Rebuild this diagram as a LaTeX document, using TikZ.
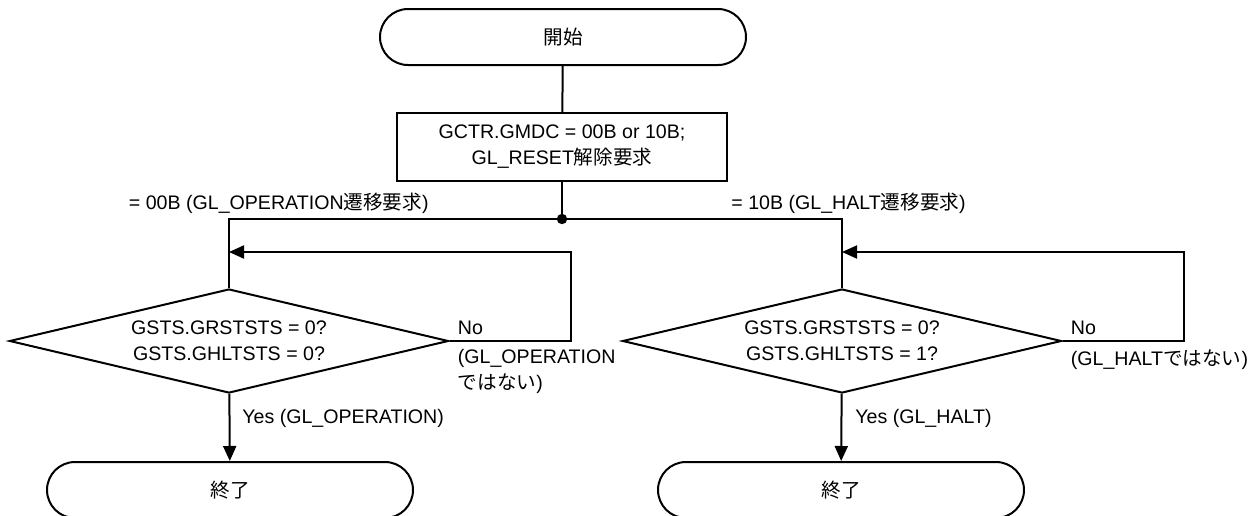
\documentclass[tikz,border=0pt]{standalone}
\usepackage{fontspec}
\setmainfont{Liberation Sans}
\newfontfamily\jpfont{Noto Sans CJK JP}
\usetikzlibrary{arrows.meta,positioning,shapes.geometric}

\begin{document}
\begin{tikzpicture}[
  x=0.5pt, y=-0.5pt,
  font=\fontsize{9.8}{13}\selectfont,
  term/.style={draw, rounded corners=14pt, minimum width=183pt, minimum height=28pt, line width=1pt},
  proc/.style={draw, align=center, minimum width=165pt, minimum height=34pt, line width=1pt},
  decide/.style={draw, diamond, aspect=4.2, inner sep=0pt, minimum width=219.5pt,
    minimum height=52pt, align=center, line width=1pt},
  lbl/.style={inner sep=1pt, align=left},
  line/.style={line width=1pt},
  arrow/.style={-{Triangle[length=7.5pt, width=6.5pt]}, line width=1pt}
]
\useasboundingbox (0,0) rectangle (1260,515);
\node[term] (start) at (563,37) {{\jpfont 開始}};
\node[proc] (reset) at (562,147) {GCTR.GMDC = 00B or 10B;\\GL\_RESET{\jpfont 解除要求}};
\coordinate (split) at (562,219);
\node[decide] (opchk) at (229,341) {GSTS.GRSTSTS = 0?\\GSTS.GHLTSTS = 0?};
\node[decide] (hltchk) at (842,341) {GSTS.GRSTSTS = 0?\\GSTS.GHLTSTS = 1?};
\node[term] (opend) at (230,490) {{\jpfont 終了}};
\node[term] (hltend) at (841,490) {{\jpfont 終了}};
\coordinate (opmerge) at (229,252);
\coordinate (hltmerge) at (842,252);
\coordinate (opback) at (571,252);
\coordinate (hltback) at (1184,252);
\node[lbl, anchor=east] (oplbl) at (431,203) {= 00B (GL\_OPERATION{\jpfont 遷移要求})};
\node[lbl, anchor=west] (hltlbl) at (729,203) {= 10B (GL\_HALT{\jpfont 遷移要求})};
\node[lbl, anchor=south west] (opno) at ([xshift=3pt, yshift=2pt]opchk.east) {No};
\node[lbl, anchor=north west] (opnot) at ([xshift=3pt, yshift=-3pt]opchk.east) {(GL\_OPERATION\\{\jpfont ではない})};
\node[lbl, anchor=south west] (hltno) at ([xshift=3pt, yshift=2pt]hltchk.east) {No};
\node[lbl, anchor=north west] (hltnot) at ([xshift=3pt, yshift=-3pt]hltchk.east) {(GL\_HALT{\jpfont ではない})};
\node[lbl, anchor=west] (opyes) at (240,418) {Yes (GL\_OPERATION)};
\node[lbl, anchor=west] (hltyes) at (853,418) {Yes (GL\_HALT)};
\draw[line] (start) -- (reset);
\draw[line] (reset) -- (split);
\fill (split) circle (2.6pt);
\draw[line] (split) -| (opchk.north);
\draw[line] (split) -| (hltchk.north);
\draw[arrow] (opchk.east) -| (opback) -- (opmerge);
\draw[arrow] (hltchk.east) -| (hltback) -- (hltmerge);
\draw[arrow] (opchk) -- (opend);
\draw[arrow] (hltchk) -- (hltend);
\end{tikzpicture}
\end{document}
